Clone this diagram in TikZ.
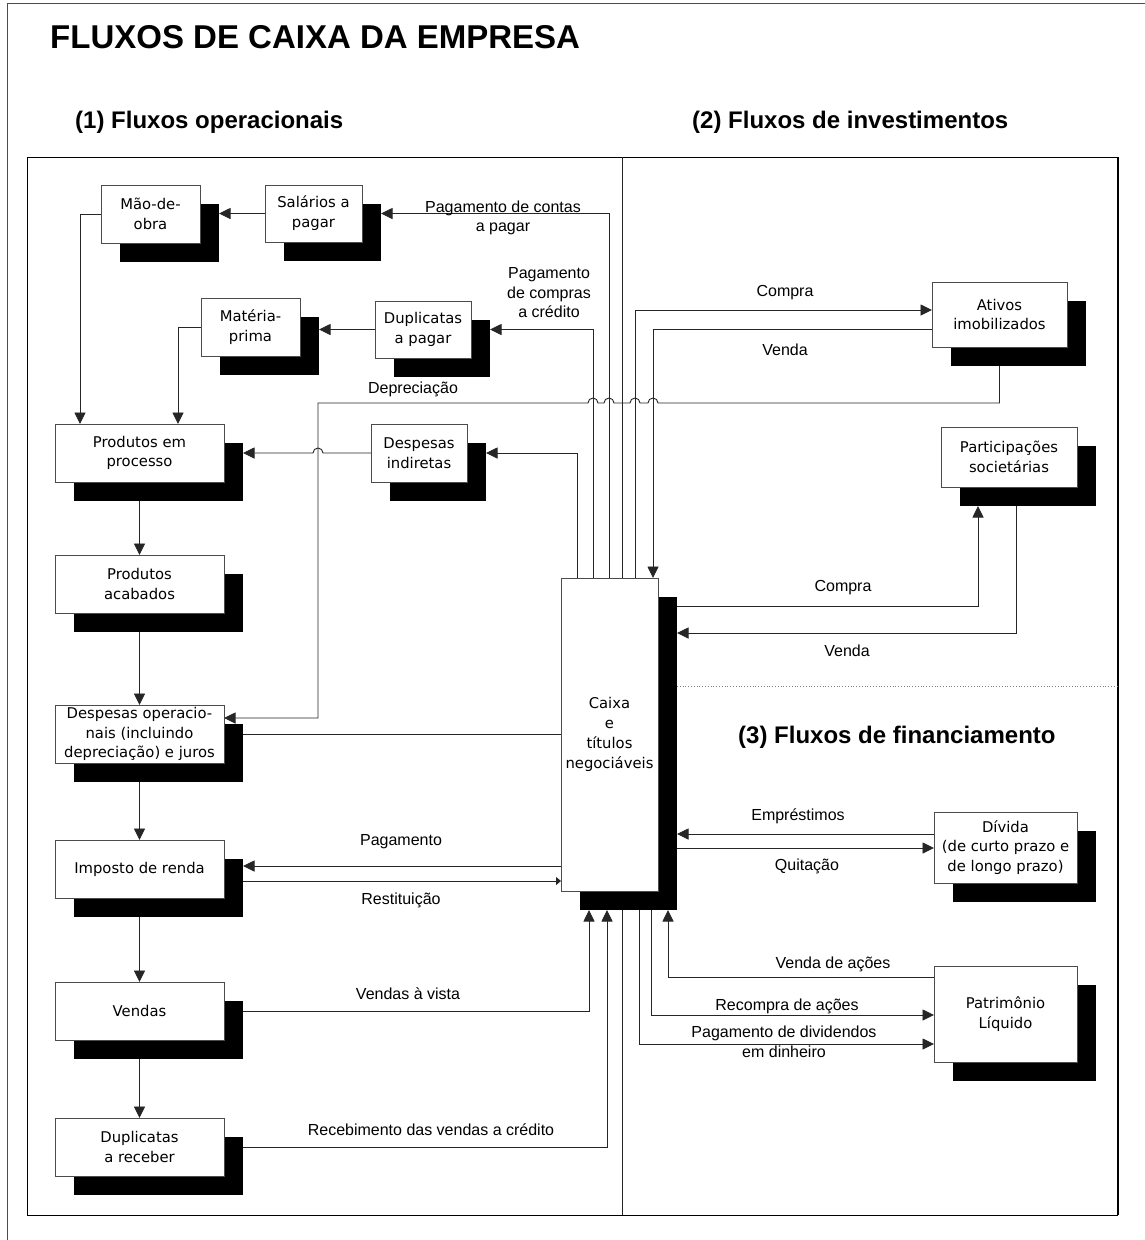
\documentclass[tikz,border=0pt]{standalone}
\usepackage{fontspec}
\setmainfont{Liberation Sans}
\newfontfamily\boxfont{DejaVu Sans}
\usetikzlibrary{arrows.meta,calc}
\newcommand\mybox[6]{%
 \node[shbox, minimum width={(#4-#2)*1pt}, minimum height={(#5-#3)*1pt}] (#1s) at ({(#2+#4)/2+19},{(#3+#5)/2+19}) {};
 \node[wbox, minimum width={(#4-#2)*1pt}, minimum height={(#5-#3)*1pt}] (#1) at ({(#2+#4)/2},{(#3+#5)/2}) {#6};}
\begin{document}
\begin{tikzpicture}[x=1pt,y=-1pt,
 ln/.style={draw=black!85, line width=0.9pt},
 arr/.style={ln,-{Triangle[length=11.5pt,width=11pt]}},
 sarr/.style={ln,-{Triangle[length=5pt,width=8pt]}},
 wbox/.style={draw=black!70, line width=0.9pt, fill=white, inner sep=0pt, outer sep=0pt, align=center, font=\boxfont\fontsize{14.8}{19.8}\selectfont},
 shbox/.style={fill=black, inner sep=0pt, outer sep=0pt},
 lbl/.style={inner sep=0pt, align=center, font=\fontsize{16}{19.5}\selectfont},
 ttl/.style={inner sep=0pt, anchor=west, font=\bfseries\fontsize{24}{28}\selectfont}]
\path[use as bounding box, fill=white] (0,0) rectangle (1145,1240);

% frames
\draw[black!70, line width=1pt] (7,1240) -- (7,3) -- (1145,3);
\draw[black, line width=1pt] (27,157) -- (27,1215) -- (1118,1215);
\draw[black, line width=1pt] (27,157) -- (1118,157);
\draw[black, line width=1.8pt] (1118,157) -- (1118,1215);
\draw[ln] (622,157) -- (622,1215);

% titles
\node[inner sep=0pt, anchor=west, font=\bfseries\fontsize{33}{36}\selectfont] (title) at (50,37) {FLUXOS DE CAIXA DA EMPRESA};
\node[ttl] (t1) at (75,122) {(1) Fluxos operacionais};
\node[ttl] (t2) at (692,122) {(2) Fluxos de investimentos};
\node[ttl] (t3) at (738,737) {(3) Fluxos de financiamento};

% boxes
\mybox{mao}{101}{185}{200}{243}{Mão-de-\\obra}
\mybox{sal}{265}{185}{362}{242}{Salários a\\pagar}
\mybox{mat}{201}{298}{300}{356}{Matéria-\\prima}
\mybox{dpag}{375}{301}{471}{358}{Duplicatas\\a pagar}
\mybox{prod}{55}{424}{224}{482}{Produtos em\\processo}
\mybox{dind}{371}{424}{467}{482}{Despesas\\indiretas}
\mybox{acab}{55}{555}{224}{613}{Produtos\\acabados}
\mybox{dop}{55}{705}{224}{763}{Despesas operacio-\\nais (incluindo\\depreciação) e juros}
\mybox{imp}{55}{840}{224}{898}{Imposto de renda}
\mybox{ven}{55}{982}{224}{1040}{Vendas}
\mybox{rec}{55}{1118}{224}{1176}{Duplicatas\\a receber}
\mybox{caixa}{561}{578}{658}{891}{Caixa\\e\\títulos\\negociáveis}
\mybox{ativ}{932}{282}{1067}{347}{Ativos\\imobilizados}
\mybox{part}{941}{427}{1077}{487}{Participações\\societárias}
\mybox{div}{934}{812}{1077}{883}{Dívida\\(de curto prazo e\\de longo prazo)}
\mybox{pl}{934}{966}{1077}{1062}{Patrimônio\\Líquido}

% rails and levels
\coordinate (r1) at (577,0); \coordinate (r2) at (593,0); \coordinate (r3) at (609,0);
\coordinate (r5) at (635,0); \coordinate (r6) at (653,0);
\coordinate (b1) at (589,0); \coordinate (b2) at (607,0);
\coordinate (d1) at (639,0); \coordinate (d2) at (651,0); \coordinate (d3) at (668,0);
\coordinate (rd) at (318,0); \coordinate (dy) at (0,403);
\coordinate (pc) at (978,0); \coordinate (pv) at (1016,0);
\coordinate (yCompA) at (0,310); \coordinate (yVendA) at (0,329);
\coordinate (yCompP) at (0,606); \coordinate (yVendP) at (0,633);
\coordinate (yDot) at (0,686); \coordinate (xDot) at (1118,0);
\coordinate (yDep) at (0,718);
\coordinate (yPag) at (0,866); \coordinate (yRes) at (0,881);
\coordinate (yEmp) at (0,834); \coordinate (yQui) at (0,848);
\coordinate (yVac) at (0,977); \coordinate (yRec) at (0,1015); \coordinate (yDiv) at (0,1044);

% operational flows
\draw[arr] (sal.west) -- (maos.east |- sal.west);
\draw[arr] (dpag.west) -- (mats.east |- dpag.west);
\draw[arr] (mao.west) -| ([xshift=25pt]prod.north west);
\draw[arr] (mat.west) -| ([xshift=123pt]prod.north west);
\draw[arr] (r3 |- caixa.north) -- (r3 |- sal.east) -- (sals.east |- sal.east);
\draw[arr] (r2 |- caixa.north) -- (r2 |- dpag.east) -- (dpags.east |- dpag.east);
\draw[arr] (r1 |- caixa.north) -- (r1 |- dind.east) -- (dinds.east |- dind.east);
\draw[arr] (dind.west) -- ([xshift=5pt]rd |- dind.west) arc[start angle=0,end angle=180,radius=5pt] -- (prods.east |- dind.west);
\draw[arr] (prod.south |- prods.south) -- (acab.north);
\draw[arr] (acab.south |- acabs.south) -- (dop.north);
\draw[arr] (dop.south |- dops.south) -- (imp.north);
\draw[arr] (imp.south |- imps.south) -- (ven.north);
\draw[arr] (ven.south |- vens.south) -- (rec.north);
% depreciation with jumps
\draw[arr] (ativ.south |- ativs.south) -- (ativ.south |- dy)
  -- ([xshift=5pt]r6 |- dy) arc[start angle=0,end angle=180,radius=5pt]
  -- ([xshift=5pt]r5 |- dy) arc[start angle=0,end angle=180,radius=5pt]
  -- ([xshift=5pt]r3 |- dy) arc[start angle=0,end angle=180,radius=5pt]
  -- ([xshift=5pt]r2 |- dy) arc[start angle=0,end angle=180,radius=5pt]
  -- (rd |- dy) -- (rd |- yDep) -- (dop.east |- yDep);
\draw[ln] (caixa.west |- dop.east) -- (dops.east |- dop.east);
\draw[arr] (caixa.west |- yPag) -- (imps.east |- yPag);
\draw[sarr] (imps.east |- yRes) -- (caixa.west |- yRes);
\draw[arr] (vens.east |- ven.east) -| (b1 |- caixas.south);
\draw[arr] (recs.east |- rec.east) -| (b2 |- caixas.south);

% investment flows
\draw[arr] (r5 |- caixa.north) |- (ativ.west |- yCompA);
\draw[arr] (ativ.west |- yVendA) -| (r6 |- caixa.north);
\draw[arr] (caixas.east |- yCompP) -| (pc |- parts.south);
\draw[arr] (pv |- parts.south) |- (caixas.east |- yVendP);
\draw[black!50, dotted, line width=0.8pt] (caixas.east |- yDot) -- (xDot |- yDot);

% financing flows
\draw[arr] (div.west |- yEmp) -- (caixas.east |- yEmp);
\draw[arr] (caixas.east |- yQui) -- (div.west |- yQui);
\draw[arr] (pl.west |- yVac) -| (d3 |- caixas.south);
\draw[arr] (d2 |- caixas.south) |- (pl.west |- yRec);
\draw[arr] (d1 |- caixas.south) |- (pl.west |- yDiv);

% labels
\node[lbl] (l1) at (503,218) {Pagamento de contas\\a pagar};
\node[lbl] (l2) at (549,293) {Pagamento\\de compras\\a crédito};
\node[lbl] (l3) at (413,389) {Depreciação};
\node[lbl] (l4) at (785,293) {Compra};
\node[lbl] (l5) at (785,350) {Venda};
\node[lbl] (l6) at (843,588) {Compra};
\node[lbl] (l7) at (847,651) {Venda};
\node[lbl] (l8) at (798,816) {Empréstimos};
\node[lbl] (l9) at (807,866) {Quitação};
\node[lbl] (l10) at (833,964) {Venda de ações};
\node[lbl] (l11) at (787,1006) {Recompra de ações};
\node[lbl] (l12) at (784,1042) {Pagamento de dividendos\\em dinheiro};
\node[lbl] (l13) at (401,842) {Pagamento};
\node[lbl] (l14) at (401,900) {Restituição};
\node[lbl] (l15) at (408,994) {Vendas à vista};
\node[lbl] (l16) at (431,1130) {Recebimento das vendas a crédito};
\end{tikzpicture}
\end{document}
